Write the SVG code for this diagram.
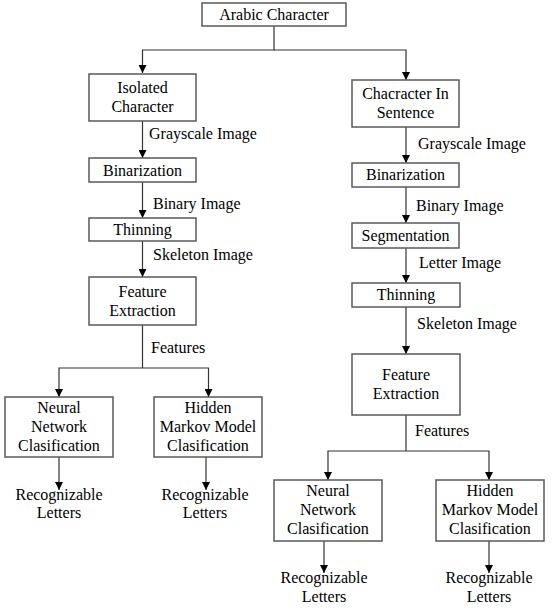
<svg xmlns="http://www.w3.org/2000/svg" width="555" height="615" viewBox="0 0 555 615">
<style>
rect.box{fill:#fff;stroke:#5a5a5a;stroke-width:1.5}
text{font-family:"Liberation Serif","Times New Roman",serif;font-size:16px;fill:#000}
text.c{text-anchor:middle}
.conn path{fill:none;stroke:#333;stroke-width:1.2}
</style>
<defs>
<marker id="arr" viewBox="0 0 10 10" refX="10" refY="5" markerWidth="9" markerHeight="8" markerUnits="userSpaceOnUse" orient="auto">
<path d="M0,0 L10,5 L0,10 z" fill="#000"/>
</marker>
</defs>
<rect width="555" height="615" fill="#fff"/>
<g class="conn">
<path d="M274,26 V50 H142.5 V73" marker-end="url(#arr)"/>
<path d="M274,50 H406 V80" marker-end="url(#arr)"/>
<path d="M142.5,121 V158" marker-end="url(#arr)"/>
<path d="M142.5,182 V218" marker-end="url(#arr)"/>
<path d="M142.5,241 V277" marker-end="url(#arr)"/>
<path d="M142.5,325 V368"/>
<path d="M142.5,368 H59 V397" marker-end="url(#arr)"/>
<path d="M142.5,368 H208.5 V397" marker-end="url(#arr)"/>
<path d="M59,457 V490" marker-end="url(#arr)"/>
<path d="M206,457 V490" marker-end="url(#arr)"/>
<path d="M406,127 V163" marker-end="url(#arr)"/>
<path d="M406,187 V223" marker-end="url(#arr)"/>
<path d="M406,248 V283" marker-end="url(#arr)"/>
<path d="M406,307 V354" marker-end="url(#arr)"/>
<path d="M406,415 V451"/>
<path d="M406,451 H328 V480" marker-end="url(#arr)"/>
<path d="M406,451 H489 V480" marker-end="url(#arr)"/>
<path d="M324,541 V573" marker-end="url(#arr)"/>
<path d="M489,541 V573" marker-end="url(#arr)"/>
</g>
<g class="labels">
<text x="149" y="139">Grayscale Image</text>
<text x="153" y="209">Binary Image</text>
<text x="153" y="260">Skeleton Image</text>
<text x="151" y="353">Features</text>
<text x="418" y="149">Grayscale Image</text>
<text x="416" y="211">Binary Image</text>
<text x="419" y="268">Letter Image</text>
<text x="417" y="329">Skeleton Image</text>
<text x="415" y="436">Features</text>
</g>
<g id="arabic-character"><rect class="box" x="202" y="3" width="144" height="23"/><text class="c" x="274" y="19.5">Arabic Character</text></g>
<g id="isolated-character"><rect class="box" x="89" y="74" width="107" height="47"/><text class="c" x="142.5" y="93">Isolated</text><text class="c" x="142.5" y="112">Character</text></g>
<g id="binarization-l"><rect class="box" x="89" y="158" width="107" height="24"/><text class="c" x="142.5" y="176">Binarization</text></g>
<g id="thinning-l"><rect class="box" x="89" y="218" width="107" height="23"/><text class="c" x="142.5" y="235">Thinning</text></g>
<g id="feature-l"><rect class="box" x="89" y="277" width="107" height="48"/><text class="c" x="142.5" y="297">Feature</text><text class="c" x="142.5" y="316">Extraction</text></g>
<g id="nn-l"><rect class="box" x="5" y="397" width="108" height="60"/><text class="c" x="59" y="413">Neural</text><text class="c" x="59" y="432">Network</text><text class="c" x="59" y="451">Clasification</text></g>
<g id="hmm-l"><rect class="box" x="154" y="397" width="108" height="60"/><text class="c" x="208" y="413">Hidden</text><text class="c" x="208" y="432">Markov Model</text><text class="c" x="208" y="451">Clasification</text></g>
<g id="rec-l1"><text class="c" x="59" y="500">Recognizable</text><text class="c" x="59" y="518">Letters</text></g>
<g id="rec-l2"><text class="c" x="205" y="500">Recognizable</text><text class="c" x="205" y="518">Letters</text></g>
<g id="char-sentence"><rect class="box" x="352" y="80" width="107" height="47"/><text class="c" x="405.5" y="99">Chacracter In</text><text class="c" x="405.5" y="118">Sentence</text></g>
<g id="binarization-r"><rect class="box" x="352" y="163" width="107" height="24"/><text class="c" x="405.5" y="180">Binarization</text></g>
<g id="segmentation"><rect class="box" x="352" y="223" width="107" height="25"/><text class="c" x="405.5" y="241">Segmentation</text></g>
<g id="thinning-r"><rect class="box" x="352" y="283" width="108" height="24"/><text class="c" x="406" y="300">Thinning</text></g>
<g id="feature-r"><rect class="box" x="352" y="354" width="108" height="61"/><text class="c" x="406" y="380">Feature</text><text class="c" x="406" y="399">Extraction</text></g>
<g id="nn-r"><rect class="box" x="274" y="480" width="108" height="61"/><text class="c" x="328" y="496">Neural</text><text class="c" x="328" y="515">Network</text><text class="c" x="328" y="534">Clasification</text></g>
<g id="hmm-r"><rect class="box" x="436" y="480" width="108" height="61"/><text class="c" x="490" y="496">Hidden</text><text class="c" x="490" y="515">Markov Model</text><text class="c" x="490" y="534">Clasification</text></g>
<g id="rec-r1"><text class="c" x="324" y="583">Recognizable</text><text class="c" x="324" y="602">Letters</text></g>
<g id="rec-r2"><text class="c" x="489" y="583">Recognizable</text><text class="c" x="489" y="602">Letters</text></g>
</svg>
